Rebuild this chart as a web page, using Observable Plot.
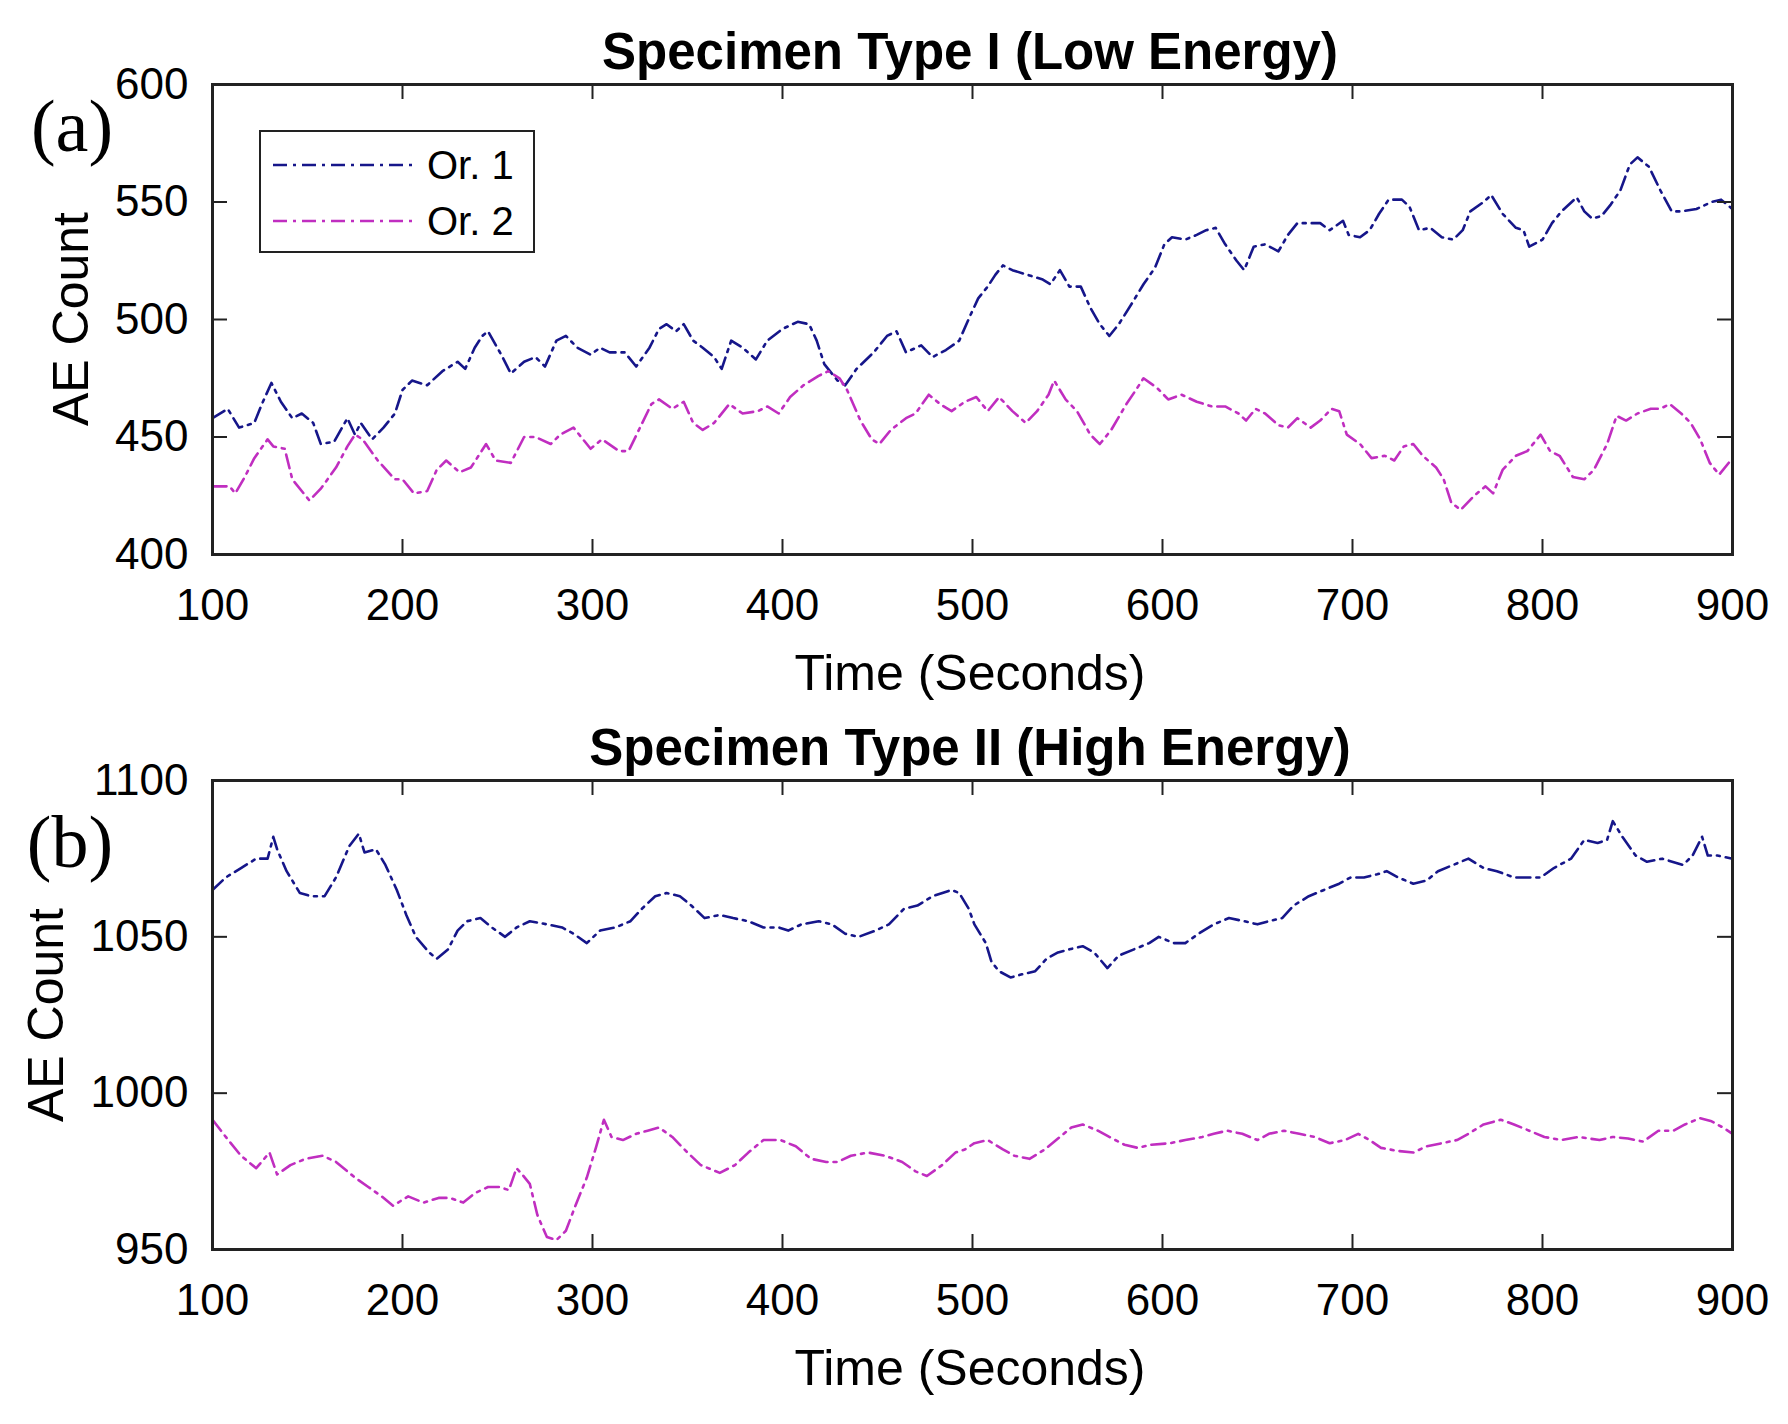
<!DOCTYPE html>
<html>
<head>
<meta charset="utf-8">
<script src="https://cdn.jsdelivr.net/npm/d3@7"></script>
<script src="https://cdn.jsdelivr.net/npm/@observablehq/plot@0.6"></script>
<style>
  body { margin: 0; background: white; }
  #page { position: relative; width: 1788px; height: 1424px; background: white; font-family: 'Liberation Sans', Arial, sans-serif; color: black; }
  .abs { position: absolute; white-space: nowrap; transform: translate(-50%, -50%); }
  .title { font-weight: bold; font-size: 51px; }
  .axlab { font-size: 50px; }
  .panel { font-family: 'Liberation Serif', 'Times New Roman', serif; font-size: 74px; }
  .rot { transform: translate(-50%, -50%) rotate(-90deg); }
  #legend { position: absolute; left: 259px; top: 130px; width: 272px; height: 119px; border: 2px solid #222; background: white; }
  #legend svg { position: absolute; left: 0; top: 0; }
</style>
</head>
<body>
<div id="page"></div>
<script>
// axis ticks
const xTicks = [100, 200, 300, 400, 500, 600, 700, 800, 900]
const yTicksA = [400, 450, 500, 550, 600]
const yTicksB = [950, 1000, 1050, 1100]

const seriesNames = ['Or. 1', 'Or. 2']
const colors = ['#16168a', '#c02ec0']

// (a) Specimen Type I, Or. 1
const tA1 = [100,108,114,122,126,131,136,142,147,153,157,164,171,175,178,184,190,196,200,205,213,221,229,233,238,242,245,252,257,264,270,275,281,286,292,299,304,309,317,323,330,335,339,344,348,353,358,364,368,373,379,386,392,400,408,414,418,422,429,433,439,448,455,460,465,473,479,486,493,499,503,508,512,516,521,529,537,541,546,551,557,562,567,572,577,584,590,596,601,605,612,618,623,628,633,639,643,648,654,661,666,671,678,683,688,695,698,704,709,714,719,726,730,735,741,747,753,758,762,769,773,779,786,790,793,800,805,810,818,822,826,831,836,841,846,850,856,862,868,873,881,889,894,900]
const vA1 = [458,462,454,456,464,473,465,458,460,456,447,448,458,451,456,449,454,460,470,474,472,478,482,479,488,493,495,485,477,482,484,480,491,493,488,485,488,486,486,480,488,496,498,495,498,491,488,484,479,491,488,483,491,496,499,498,491,481,474,472,479,486,493,495,486,489,484,487,491,502,509,514,519,523,521,519,517,515,521,514,514,505,498,493,498,507,515,522,532,535,534,536,538,539,532,525,521,531,532,529,536,541,541,541,538,542,536,535,538,545,551,551,548,538,539,535,534,538,546,550,553,545,539,538,531,534,541,546,552,546,543,544,549,555,566,569,565,555,546,546,547,550,551,547]

// (a) Specimen Type I, Or. 2
const tA2 = [100,109,112,117,122,129,132,138,142,151,157,165,171,175,179,187,196,200,206,213,218,223,230,236,244,249,257,264,270,278,283,290,299,305,314,319,325,331,335,342,348,353,358,364,372,379,387,392,398,404,411,419,424,430,434,441,447,451,457,465,470,477,483,489,496,502,508,514,521,528,534,540,543,549,555,562,567,573,581,586,590,597,603,610,618,626,633,640,644,649,654,661,666,671,678,683,689,693,697,704,710,717,722,727,732,737,744,748,752,757,764,770,774,779,786,792,799,804,809,816,822,827,834,839,844,850,857,862,867,873,878,883,888,893,900]
const vA2 = [429,429,426,433,441,449,446,445,432,423,428,437,446,451,449,440,432,432,426,427,436,440,435,437,447,440,439,450,450,447,451,454,445,449,444,444,454,464,466,462,465,456,453,456,464,460,461,463,460,467,472,476,478,475,470,457,449,447,453,458,460,468,464,461,465,467,461,467,461,456,461,468,474,466,461,451,447,453,464,470,475,471,466,468,465,463,463,460,457,462,460,455,454,458,454,457,462,461,451,447,441,442,440,446,447,442,437,432,422,419,425,429,426,436,442,444,451,444,442,433,432,436,447,459,457,460,462,462,464,460,456,449,439,434,441]

// (b) Specimen Type II, Or. 1
const tB1 = [100,107,115,123,129,132,134,139,146,152,159,165,172,177,180,186,191,197,202,207,214,218,224,229,234,241,247,254,260,267,276,284,290,297,304,312,320,326,333,339,346,352,359,367,374,382,390,398,403,410,419,426,433,440,449,456,464,471,479,489,493,498,501,507,510,514,520,526,533,539,545,551,558,564,571,577,585,593,598,606,612,619,627,635,643,650,656,663,669,677,685,693,699,706,713,718,724,732,739,745,753,761,769,776,785,791,799,806,815,822,829,834,837,842,849,855,863,874,879,884,887,892,900]
const vB1 = [1065,1069,1072,1075,1075,1082,1078,1071,1064,1063,1063,1069,1079,1083,1077,1078,1073,1065,1057,1050,1045,1043,1046,1052,1055,1056,1053,1050,1053,1055,1054,1053,1051,1048,1052,1053,1055,1059,1063,1064,1063,1060,1056,1057,1056,1055,1053,1053,1052,1054,1055,1054,1051,1050,1052,1054,1059,1060,1063,1065,1064,1059,1054,1048,1042,1039,1037,1038,1039,1043,1045,1046,1047,1045,1040,1044,1046,1048,1050,1048,1048,1051,1054,1056,1055,1054,1055,1056,1060,1063,1065,1067,1069,1069,1070,1071,1069,1067,1068,1071,1073,1075,1072,1071,1069,1069,1069,1072,1075,1081,1080,1081,1087,1082,1076,1074,1075,1073,1076,1082,1076,1076,1075]

// (b) Specimen Type II, Or. 2
const tB2 = [100,107,115,123,130,134,141,149,158,165,175,182,189,195,203,211,219,225,232,238,245,251,256,260,263,267,271,276,281,286,291,297,302,306,310,316,323,329,335,342,350,357,367,375,382,390,399,407,415,423,429,436,445,454,463,470,476,484,491,496,501,508,516,522,530,538,546,552,558,566,572,580,587,594,604,612,621,627,634,642,650,656,664,672,680,688,696,703,709,715,724,732,739,747,755,761,769,778,785,793,801,810,819,830,837,845,853,861,869,875,883,889,895,900]
const vB2 = [991.5,986,980,976,981,974,977,979,980,978,973,970,967,964,967,965,966.5,966.5,965,968,970,970,969,976,974,971,961,954,953,956,964,973,983,991.5,986,985,987,988,989,986,981,977,974.5,977,981,985,985,983,979,978,978,980,981,980,978,975,973.5,977,981,982,984,985,982,980,979,982,986,989,990,988,986,983.5,982.5,983.5,984,985,986,987,988,987,985,987,988,987,986,984,985,987,985,982.5,981.5,981,983,984,985,987,990,991.5,990,988,986,985,986,985,986,985.5,984.5,988,988,990,992,991,989,987]

const toRows = (ts, vs, s) => ts.map((t, i) => ({t, v: vs[i], s}))
const dataA = [...toRows(tA1, vA1, seriesNames[0]), ...toRows(tA2, vA2, seriesNames[1])]
const dataB = [...toRows(tB1, vB1, seriesNames[0]), ...toRows(tB2, vB2, seriesNames[1])]

const W = 1788
const dash = '14,6,3,6'
const tickLen = 15

function panel(data, yDomain, yTicks, height, mt, mb) {
  const ml = 212, mr = 56
  const innerW = W - ml - mr
  const innerH = height - mt - mb
  return Plot.plot({
    width: W,
    height: height,
    marginLeft: ml,
    marginRight: mr,
    marginTop: mt,
    marginBottom: mb,
    x: {domain: [100, 900]},
    y: {domain: yDomain},
    color: {domain: seriesNames, range: colors},
    style: {fontFamily: "'Liberation Sans', Arial, sans-serif", fontSize: '44px', color: 'black', background: 'transparent', overflow: 'visible'},
    marks: [
      Plot.line(data, {x: 't', y: 'v', z: 's', stroke: 's', strokeWidth: 2.6, strokeDasharray: dash}),
      // inward ticks, MATLAB style
      Plot.tickX(xTicks, {x: d => d, insetTop: innerH - tickLen, stroke: '#222', strokeWidth: 2}),
      Plot.tickX(xTicks, {x: d => d, insetBottom: innerH - tickLen, stroke: '#222', strokeWidth: 2}),
      Plot.tickY(yTicks, {y: d => d, insetRight: innerW - tickLen, stroke: '#222', strokeWidth: 2}),
      Plot.tickY(yTicks, {y: d => d, insetLeft: innerW - tickLen, stroke: '#222', strokeWidth: 2}),
      Plot.frame({stroke: '#222', strokeWidth: 3}),
      Plot.axisX({ticks: xTicks, tickSize: 0, tickPadding: 34, tickFormat: d => String(d), label: null}),
      Plot.axisY({ticks: yTicks, tickSize: 0, tickPadding: 24, tickFormat: d => String(d), label: null})
    ]
  })
}

const page = d3.select('#page')

const chartA = panel(dataA, [400, 600], yTicksA, 700, 84, 146)
const chartB = panel(dataB, [950, 1100], yTicksB, 724, 80, 175)

page.append('div').style('position', 'absolute').style('left', '0px').style('top', '0px').append(() => chartA)
page.append('div').style('position', 'absolute').style('left', '0px').style('top', '700px').append(() => chartB)

function label(text, x, y, cls) {
  page.append('div').attr('class', 'abs ' + cls).style('left', x + 'px').style('top', y + 'px').text(text)
}

label('Specimen Type I (Low Energy)', 970, 51, 'title')
label('Specimen Type II (High Energy)', 970, 747, 'title')
label('Time (Seconds)', 970, 673, 'axlab')
label('Time (Seconds)', 970, 1368, 'axlab')
label('AE Count', 71, 319, 'axlab rot')
label('AE Count', 46, 1015, 'axlab rot')
label('(a)', 72, 126, 'panel')
label('(b)', 70, 842, 'panel')

// legend
const legend = page.append('div').attr('id', 'legend')
const lsvg = legend.append('svg').attr('width', 272).attr('height', 119)
seriesNames.forEach((name, i) => {
  const y = 33 + i * 56
  lsvg.append('line').attr('x1', 12).attr('x2', 152).attr('y1', y).attr('y2', y)
    .attr('stroke', colors[i]).attr('stroke-width', 2.6).attr('stroke-dasharray', dash)
  lsvg.append('text').attr('x', 166).attr('y', y).attr('dy', '0.35em')
    .style('font-family', "'Liberation Sans', Arial, sans-serif").style('font-size', '40px')
    .text(name)
})
</script>
</body>
</html>
